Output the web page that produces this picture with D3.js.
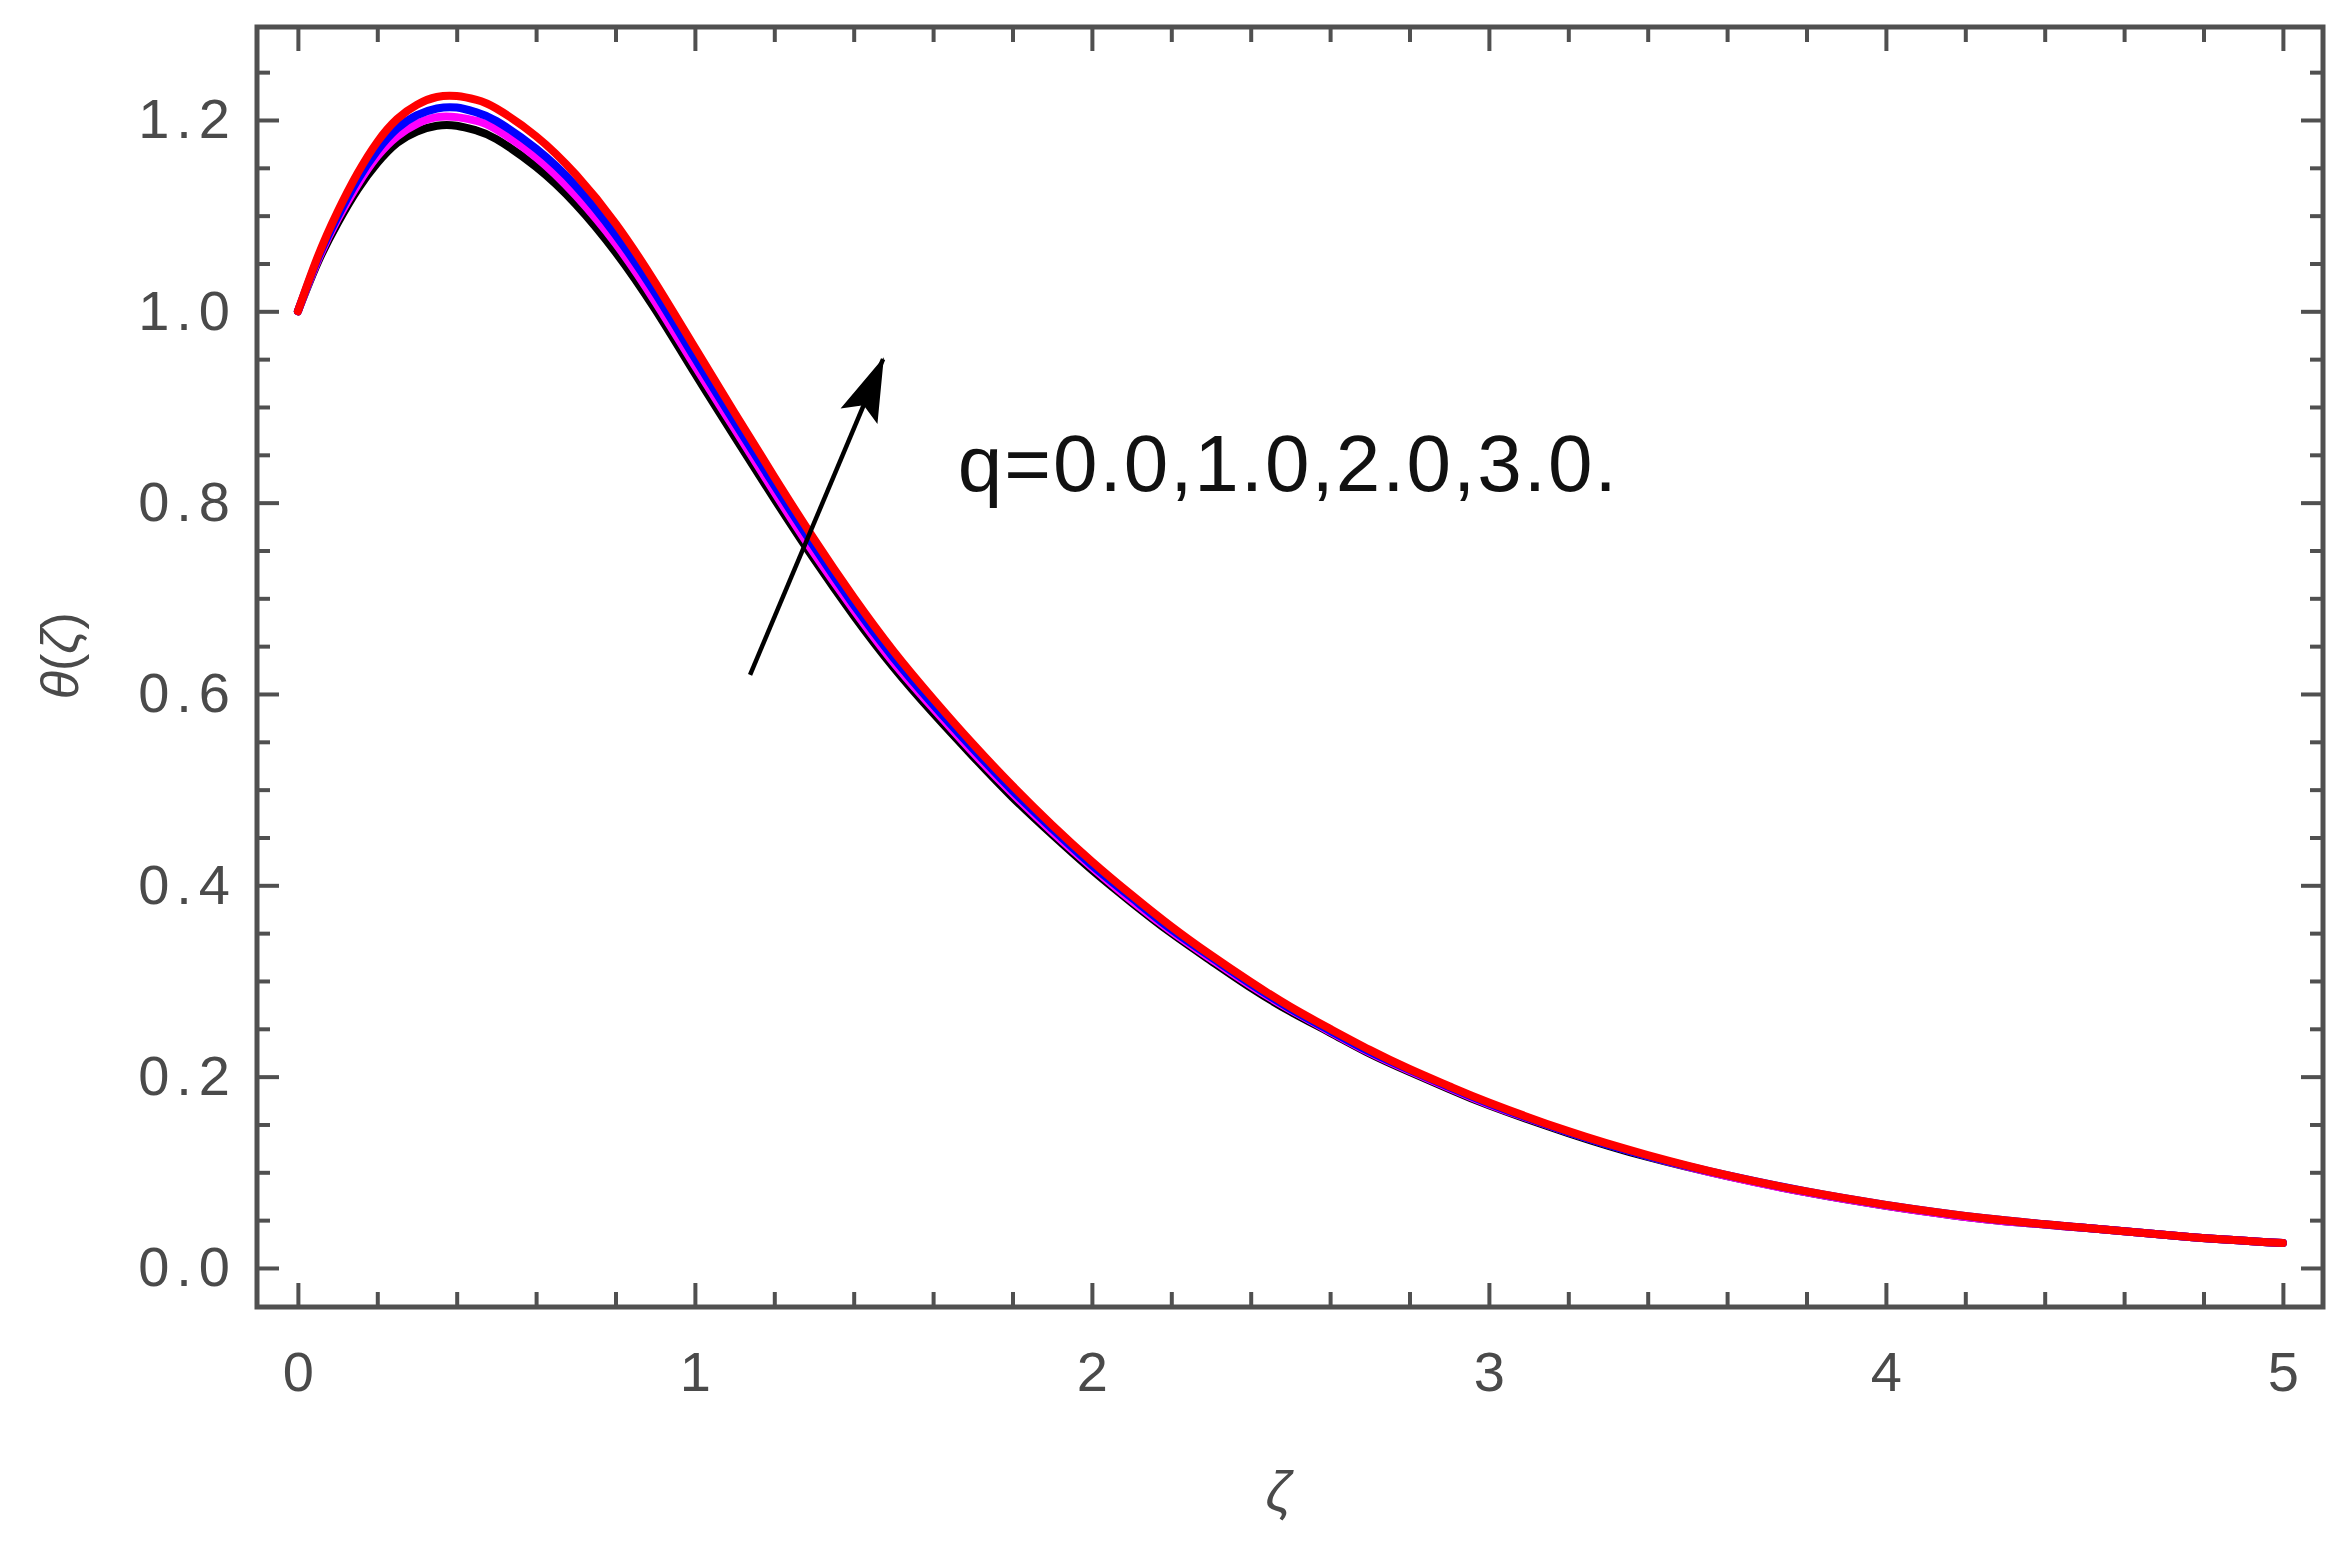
<!DOCTYPE html>
<html>
<head>
<meta charset="utf-8">
<script src="https://cdn.jsdelivr.net/npm/d3@7/dist/d3.min.js"></script>
<style>
  html, body { margin: 0; padding: 0; background: #ffffff; }
  svg { display: block; }
</style>
</head>
<body>
<svg id="chart" width="2347" height="1562"></svg>
<script>
// ---------------- data ----------------
const zeta = [0, 0.05, 0.1, 0.15, 0.2, 0.25, 0.3, 0.35, 0.4, 0.45, 0.5, 0.6, 0.7, 0.8, 0.9,
  1.0, 1.1, 1.2, 1.3, 1.4, 1.5, 1.6, 1.7, 1.8, 1.9, 2.0, 2.1, 2.2, 2.3, 2.4, 2.5, 2.6, 2.7,
  2.8, 2.9, 3.0, 3.2, 3.4, 3.6, 3.8, 4.0, 4.25, 4.5, 4.75, 5.0];

const thetaQ0 = [1.000, 1.051, 1.092, 1.127, 1.155, 1.176, 1.188, 1.194, 1.194, 1.189, 1.180, 1.151, 1.112, 1.062, 1.002,
  0.935, 0.869, 0.804, 0.741, 0.682, 0.628, 0.580, 0.535, 0.492, 0.453, 0.416, 0.382, 0.350, 0.321, 0.293, 0.268, 0.246, 0.224,
  0.205, 0.187, 0.170, 0.141, 0.116, 0.096, 0.079, 0.065, 0.051, 0.042, 0.033, 0.026];

const thetaQ1 = [1.000, 1.053, 1.096, 1.132, 1.162, 1.183, 1.196, 1.203, 1.203, 1.199, 1.190, 1.161, 1.121, 1.071, 1.010,
  0.943, 0.877, 0.811, 0.747, 0.688, 0.633, 0.585, 0.539, 0.496, 0.456, 0.419, 0.384, 0.352, 0.323, 0.295, 0.270, 0.247, 0.225,
  0.206, 0.188, 0.171, 0.142, 0.117, 0.096, 0.079, 0.065, 0.051, 0.042, 0.033, 0.026];

const thetaQ2 = [1.000, 1.055, 1.099, 1.137, 1.168, 1.191, 1.205, 1.212, 1.213, 1.208, 1.199, 1.170, 1.131, 1.080, 1.019,
  0.951, 0.884, 0.818, 0.754, 0.693, 0.638, 0.589, 0.543, 0.499, 0.459, 0.421, 0.387, 0.354, 0.325, 0.297, 0.271, 0.248, 0.226,
  0.207, 0.189, 0.172, 0.142, 0.117, 0.097, 0.080, 0.066, 0.052, 0.042, 0.033, 0.026];

const thetaQ3 = [1.000, 1.057, 1.104, 1.144, 1.177, 1.201, 1.216, 1.224, 1.225, 1.221, 1.212, 1.183, 1.143, 1.092, 1.030,
  0.962, 0.894, 0.827, 0.762, 0.701, 0.645, 0.595, 0.548, 0.504, 0.463, 0.425, 0.390, 0.357, 0.327, 0.299, 0.273, 0.250, 0.228,
  0.208, 0.190, 0.173, 0.143, 0.118, 0.097, 0.080, 0.066, 0.052, 0.042, 0.033, 0.026];

const seriesNames = ["q=0.0", "q=1.0", "q=2.0", "q=3.0"];
const seriesColors = ["#000000", "#ff00ff", "#0000ff", "#ff0000"];

const xTickValues = [0, 1, 2, 3, 4, 5];
const xTickLabels = ["0", "1", "2", "3", "4", "5"];
const yTickValues = [0.0, 0.2, 0.4, 0.6, 0.8, 1.0, 1.2];
const yTickLabels = ["0.0", "0.2", "0.4", "0.6", "0.8", "1.0", "1.2"];

const annotationText = "q=0.0,1.0,2.0,3.0.";
const annotationPos = [1.662, 0.812];
const arrowFrom = [1.139, 0.620];
const arrowTo = [1.474, 0.950];

const xTitle = "ζ";

// ---------------- layout ----------------
const frame = { left: 257, right: 2323, top: 27, bottom: 1307 };
const x = d3.scaleLinear().domain([-0.103, 5.101]).range([frame.left, frame.right]);
const y = d3.scaleLinear().domain([-0.0408, 1.2972]).range([frame.bottom, frame.top]);

const svg = d3.select("#chart");
const labelColor = "#4a4a4a";
const frameColor = "#505050";
const font = "'Liberation Sans', Arial, sans-serif";

// minor tick values
const xMinor = d3.range(0, 5.0001, 0.2).map(v => +v.toFixed(2)).filter(v => !xTickValues.includes(v));
const yMinor = d3.range(0, 1.2501, 0.05).map(v => +v.toFixed(2)).filter(v => !yTickValues.some(t => Math.abs(t - v) < 1e-9));

// ---------------- curves ----------------
const line = d3.line().x(d => x(d[0])).y(d => y(d[1])).curve(d3.curveNatural);
const allSeries = [thetaQ0, thetaQ1, thetaQ2, thetaQ3];
const plot = svg.append("g");
allSeries.forEach((vals, i) => {
  plot.append("path")
    .datum(zeta.map((z, k) => [z, vals[k]]))
    .attr("fill", "none")
    .attr("stroke", seriesColors[i])
    .attr("stroke-width", 8)
    .attr("stroke-linejoin", "round")
    .attr("stroke-linecap", "round")
    .attr("d", line);
});

// ---------------- axes (frame with inward ticks) ----------------
function styleAxis(g) {
  g.select(".domain").remove();
  g.selectAll(".tick line").attr("stroke", frameColor).attr("stroke-width", 4);
  g.selectAll(".tick text").attr("fill", labelColor).attr("font-family", font).attr("font-size", 56);
}

// bottom
svg.append("g").attr("transform", `translate(0,${frame.bottom})`)
  .call(d3.axisBottom(x).tickValues(xTickValues).tickFormat((d, i) => xTickLabels[i]).tickSize(-24).tickPadding(44))
  .call(styleAxis);
svg.append("g").attr("transform", `translate(0,${frame.bottom})`)
  .call(d3.axisBottom(x).tickValues(xMinor).tickFormat("").tickSize(-15))
  .call(styleAxis);
// top
svg.append("g").attr("transform", `translate(0,${frame.top})`)
  .call(d3.axisTop(x).tickValues(xTickValues).tickFormat("").tickSize(-24))
  .call(styleAxis);
svg.append("g").attr("transform", `translate(0,${frame.top})`)
  .call(d3.axisTop(x).tickValues(xMinor).tickFormat("").tickSize(-15))
  .call(styleAxis);
// left
const leftAxis = svg.append("g").attr("transform", `translate(${frame.left},0)`)
  .call(d3.axisLeft(y).tickValues(yTickValues).tickFormat((d, i) => yTickLabels[i]).tickSize(-22).tickPadding(20))
  .call(styleAxis);
leftAxis.selectAll(".tick text").attr("letter-spacing", 7);
svg.append("g").attr("transform", `translate(${frame.left},0)`)
  .call(d3.axisLeft(y).tickValues(yMinor).tickFormat("").tickSize(-13))
  .call(styleAxis);
// right
svg.append("g").attr("transform", `translate(${frame.right},0)`)
  .call(d3.axisRight(y).tickValues(yTickValues).tickFormat("").tickSize(-22))
  .call(styleAxis);
svg.append("g").attr("transform", `translate(${frame.right},0)`)
  .call(d3.axisRight(y).tickValues(yMinor).tickFormat("").tickSize(-13))
  .call(styleAxis);

// frame
svg.append("rect")
  .attr("x", frame.left).attr("y", frame.top)
  .attr("width", frame.right - frame.left).attr("height", frame.bottom - frame.top)
  .attr("fill", "none").attr("stroke", frameColor).attr("stroke-width", 5);

// ---------------- axis titles ----------------
svg.append("text")
  .attr("x", (x(0) + x(5)) / 2 - 12).attr("y", 1510)
  .attr("text-anchor", "middle")
  .attr("font-family", font).attr("font-style", "italic").attr("font-size", 56)
  .attr("fill", labelColor)
  .text(xTitle);

const yTitle = svg.append("text")
  .attr("transform", `translate(78,${y(0.64)}) rotate(-90)`)
  .attr("text-anchor", "middle")
  .attr("font-family", font).attr("font-size", 52)
  .attr("fill", labelColor);
yTitle.append("tspan").attr("font-style", "italic").text("θ");
yTitle.append("tspan").text("(");
yTitle.append("tspan").attr("font-style", "italic").text("ζ");
yTitle.append("tspan").text(")");

// ---------------- annotation ----------------
svg.append("defs").append("marker")
  .attr("id", "arrowhead")
  .attr("markerUnits", "userSpaceOnUse")
  .attr("viewBox", "-64 -24 68 48")
  .attr("markerWidth", 68).attr("markerHeight", 48)
  .attr("refX", 0).attr("refY", 0)
  .attr("orient", "auto")
  .append("path")
  .attr("d", "M2,0 L-62,-20 L-50,0 L-62,20 Z")
  .attr("fill", "#000");

svg.append("line")
  .attr("x1", x(arrowFrom[0])).attr("y1", y(arrowFrom[1]))
  .attr("x2", x(arrowTo[0])).attr("y2", y(arrowTo[1]))
  .attr("stroke", "#000").attr("stroke-width", 4.5)
  .attr("marker-end", "url(#arrowhead)");

svg.append("text")
  .attr("x", x(annotationPos[0])).attr("y", y(annotationPos[1]))
  .attr("font-family", font).attr("font-size", 80)
  .attr("letter-spacing", 2)
  .attr("fill", "#111")
  .text(annotationText);
</script>
</body>
</html>
